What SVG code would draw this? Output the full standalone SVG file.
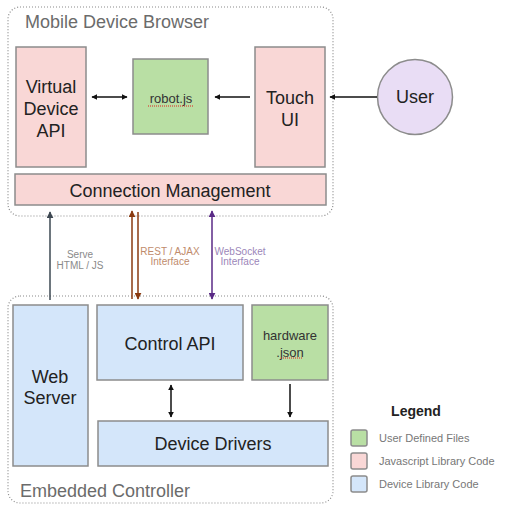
<svg xmlns="http://www.w3.org/2000/svg" width="517" height="514" viewBox="0 0 517 514">
<defs>
<style>
text{font-family:"Liberation Sans",Arial,sans-serif;}
.cont{fill:none;stroke:#8a8a8a;stroke-width:1.2;stroke-dasharray:1 2;}
.ctitle{font-size:18px;fill:#6b6b6b;}
.box{stroke:#8c8c8c;stroke-width:1.5;}
.pink{fill:#f9d7d6;}
.green{fill:#b9dfa4;}
.blue{fill:#d4e6fa;}
.purple{fill:#e9ddf5;}
.lbl{font-size:18px;fill:#222;text-anchor:middle;}
.sm{font-size:13px;fill:#333;text-anchor:middle;}
.conn{fill:none;stroke-width:1.5;}
.cl{font-size:10px;text-anchor:middle;}
.leg{font-size:11px;fill:#777;}
.squig{fill:none;stroke:#e02020;stroke-width:1;stroke-dasharray:1 1;}
</style>
<marker id="ab" viewBox="0 0 10 10" refX="9" refY="5" markerWidth="6" markerHeight="6" orient="auto-start-reverse" markerUnits="userSpaceOnUse"><path d="M0,0 L10,5 L0,10 Z" fill="#111"/></marker>
<marker id="ag" viewBox="0 0 10 10" refX="9" refY="5" markerWidth="7" markerHeight="7" orient="auto-start-reverse" markerUnits="userSpaceOnUse"><path d="M0,0 L10,5 L0,10 Z" fill="#3d4852"/></marker>
<marker id="ar" viewBox="0 0 10 10" refX="9" refY="5" markerWidth="7" markerHeight="7" orient="auto-start-reverse" markerUnits="userSpaceOnUse"><path d="M0,0 L10,5 L0,10 Z" fill="#8a3a10"/></marker>
<marker id="ap" viewBox="0 0 10 10" refX="9" refY="5" markerWidth="7" markerHeight="7" orient="auto-start-reverse" markerUnits="userSpaceOnUse"><path d="M0,0 L10,5 L0,10 Z" fill="#5a2a86"/></marker>
</defs>
<rect width="517" height="514" fill="#fff"/>

<g id="mobile-device-browser">
<rect class="cont" x="8" y="7" width="325" height="209" rx="12"/>
<text class="ctitle" x="25" y="28">Mobile Device Browser</text>
</g>
<g id="embedded-controller">
<rect class="cont" x="8" y="296" width="325" height="207" rx="12"/>
<text class="ctitle" x="20" y="497">Embedded Controller</text>
</g>

<g id="virtual-device-api">
<rect class="box pink" x="16" y="47" width="70" height="120"/>
<text class="lbl" x="51" y="93">Virtual</text>
<text class="lbl" x="51" y="115">Device</text>
<text class="lbl" x="51" y="137">API</text>
</g>
<g id="robot-js">
<rect class="box green" x="133" y="59" width="75" height="75"/>
<text class="sm" x="171" y="103">robot.js</text>
<line class="squig" x1="148" y1="106" x2="194" y2="106"/>
</g>
<g id="touch-ui">
<rect class="box pink" x="255" y="47" width="70" height="120"/>
<text class="lbl" x="290" y="104">Touch</text>
<text class="lbl" x="290" y="126">UI</text>
</g>
<g id="user">
<circle class="box purple" cx="415" cy="97" r="37.5"/>
<text class="lbl" x="415" y="103">User</text>
</g>
<g id="connection-management">
<rect class="box pink" x="15" y="174" width="311" height="31"/>
<text class="lbl" x="170" y="197">Connection Management</text>
</g>

<g id="web-server">
<rect class="box blue" x="13" y="305" width="75" height="161"/>
<text class="lbl" x="50" y="383">Web</text>
<text class="lbl" x="50" y="404">Server</text>
</g>
<g id="control-api">
<rect class="box blue" x="97" y="305" width="146" height="75"/>
<text class="lbl" x="170" y="350">Control API</text>
</g>
<g id="hardware-json">
<rect class="box green" x="252" y="305" width="76" height="75"/>
<text class="sm" x="290" y="340">hardware</text>
<text class="sm" x="290" y="357">.json</text>
<line class="squig" x1="281" y1="358" x2="302" y2="358"/>
</g>
<g id="device-drivers">
<rect class="box blue" x="98" y="421" width="230" height="45"/>
<text class="lbl" x="213" y="450">Device Drivers</text>
</g>

<g id="connectors">
<line class="conn" stroke="#111" x1="92" y1="97" x2="127" y2="97" marker-start="url(#ab)" marker-end="url(#ab)"/>
<line class="conn" stroke="#111" x1="250" y1="97" x2="215" y2="97" marker-end="url(#ab)"/>
<line class="conn" stroke="#111" x1="377" y1="97" x2="330" y2="97" marker-end="url(#ab)"/>
<line class="conn" stroke="#111" x1="171" y1="385" x2="171" y2="417" marker-start="url(#ab)" marker-end="url(#ab)"/>
<line class="conn" stroke="#111" x1="290" y1="384" x2="290" y2="417" marker-end="url(#ab)"/>

<line class="conn" stroke="#3d4852" x1="50" y1="300" x2="50" y2="212" marker-end="url(#ag)"/>
<text class="cl" fill="#8a8a8a" x="80" y="258">Serve</text>
<text class="cl" fill="#8a8a8a" x="80" y="269">HTML / JS</text>

<line class="conn" stroke="#8a3a10" x1="132" y1="299" x2="132" y2="211" marker-end="url(#ar)"/>
<line class="conn" stroke="#8a3a10" x1="138" y1="212" x2="138" y2="299" marker-end="url(#ar)"/>
<text class="cl" fill="#c08b6c" x="170" y="255">REST / AJAX</text>
<text class="cl" fill="#c08b6c" x="170" y="265">Interface</text>

<line class="conn" stroke="#5a2a86" x1="212" y1="211" x2="212" y2="299" marker-start="url(#ap)" marker-end="url(#ap)"/>
<text class="cl" fill="#9c86b9" x="240" y="255">WebSocket</text>
<text class="cl" fill="#9c86b9" x="240" y="265">Interface</text>
</g>

<g id="legend">
<text x="416" y="416" font-size="14" font-weight="bold" fill="#222" text-anchor="middle">Legend</text>
<rect class="box green" x="351" y="430" width="16" height="16" rx="2"/>
<text class="leg" x="379" y="442">User Defined Files</text>
<rect class="box pink" x="351" y="453" width="16" height="16" rx="2"/>
<text class="leg" x="379" y="465">Javascript Library Code</text>
<rect class="box blue" x="351" y="476" width="16" height="16" rx="2"/>
<text class="leg" x="379" y="488">Device Library Code</text>
</g>
</svg>
